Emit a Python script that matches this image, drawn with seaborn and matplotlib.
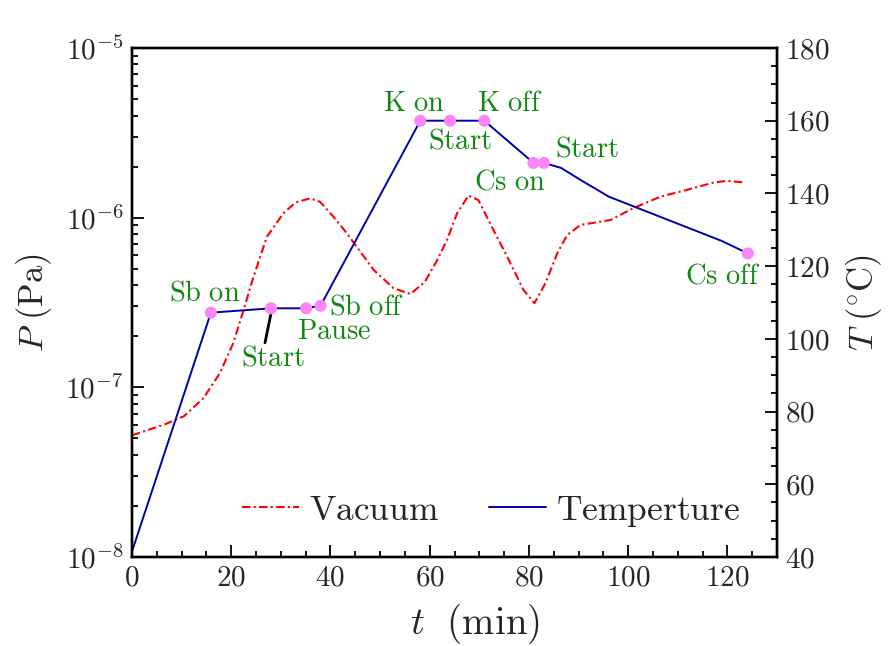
import math
import matplotlib
matplotlib.use('Agg')
import matplotlib.pyplot as plt
import matplotlib.ticker as mticker
from matplotlib.lines import Line2D
import pandas as pd
import seaborn as sns

# vacuum during the run (left axis, Pa)
vac_t = [0, 6.5, 10.5, 14.4, 17.7, 20.4, 22.5, 24.5, 27.2, 30.5, 33, 35.9, 37.9, 40.5,
         43.3, 48.7, 52.7, 56.1, 59, 61.5, 63.5, 65.5, 67.8, 69.8, 72.5, 75.6, 78.9,
         81.1, 83.3, 85.7, 87.7, 90.4, 96.4, 101.1, 106.5, 111.9, 117.2, 119.9, 123.6]
vac_p = [5.21e-8, 6.03e-8, 6.76e-8, 8.63e-8, 1.21e-7, 1.82e-7, 2.86e-7, 4.49e-7, 7.73e-7,
         1.06e-6, 1.23e-6, 1.30e-6, 1.24e-6, 1.02e-6, 8.09e-7, 4.92e-7, 3.84e-7, 3.55e-7,
         4.17e-7, 5.62e-7, 7.41e-7, 1.06e-6, 1.35e-6, 1.27e-6, 8.85e-7, 5.89e-7, 3.75e-7,
         3.13e-7, 4.10e-7, 6.17e-7, 7.91e-7, 9.06e-7, 9.68e-7, 1.14e-6, 1.33e-6, 1.46e-6,
         1.61e-6, 1.65e-6, 1.61e-6]

# temperature (right axis, deg C)
temp_t = [0, 15.9, 28, 35.1, 38, 58.1, 64.1, 71, 80.9, 83, 86.5, 90.4, 96.1, 118.9, 124.1]
temp_T = [41.5, 107.2, 108.4, 108.4, 109.1, 160, 160, 160, 148.4, 148.4, 147, 143.7,
          139.1, 126.9, 123.5]

# process events
event_t = [15.9, 28, 35.1, 38, 58.1, 64.1, 71, 80.9, 83, 124.1]
event_T = [107.2, 108.4, 108.4, 109.1, 160, 160, 160, 148.4, 148.4, 123.5]
event_names = ['Sb on', 'Start', 'Pause', 'Sb off', 'K on', 'Start', 'K off',
               'Cs on', 'Start', 'Cs off']

sns.set_theme(style='ticks')
plt.rcParams['font.family'] = ['cmr10', 'DejaVu Serif']
plt.rcParams['mathtext.fontset'] = 'cm'
plt.rcParams['axes.formatter.use_mathtext'] = True


def rm(s):
    # render plain words in Computer Modern through mathtext
    return r'$\mathrm{' + s.replace(' ', r'\ ') + '}$'


vac_df = pd.DataFrame({'t': vac_t, 'P': vac_p})
temp_df = pd.DataFrame({'t': temp_t, 'T': temp_T})
ev_df = pd.DataFrame({'t': event_t, 'T': event_T})

fig = plt.figure(figsize=(8.96, 6.46), dpi=100)
ax = fig.add_axes([0.1473, 0.1378, 0.72, 0.7879])

red = '#ff0000'
blue = '#0000aa'
green = '#118811'

sns.lineplot(data=vac_df, x='t', y='P', ax=ax, color=red, lw=1.5, sort=False)
ax.lines[0].set_dashes([4, 1.6, 1, 1.6])
ax.set_yscale('log')
ax.set_ylim(1e-8, 1e-5)
ax.set_xlim(0, 130)

# ticks on the pressure axis
ax.yaxis.set_major_locator(mticker.LogLocator(base=10))
ax.yaxis.set_minor_locator(mticker.LogLocator(base=10, subs=range(2, 10)))
ax.yaxis.set_minor_formatter(mticker.NullFormatter())
ax.yaxis.set_major_formatter(mticker.FuncFormatter(
    lambda v, p: r'$10^{%d}$' % round(math.log10(v))))
ax.xaxis.set_major_locator(mticker.MultipleLocator(20))
ax.xaxis.set_minor_locator(mticker.MultipleLocator(5))
ax.xaxis.set_major_formatter(mticker.FuncFormatter(lambda v, p: r'$%d$' % v))

ax2 = ax.twinx()
sns.lineplot(data=temp_df, x='t', y='T', ax=ax2, color=blue, lw=1.4, sort=False)
sns.scatterplot(data=ev_df, x='t', y='T', ax=ax2, color='#f985f9', s=75,
                edgecolor='none', zorder=5)
ax2.set_ylim(40, 180)
ax2.yaxis.set_major_locator(mticker.MultipleLocator(20))
ax2.yaxis.set_minor_locator(mticker.MultipleLocator(5))
ax2.yaxis.set_major_formatter(mticker.FuncFormatter(lambda v, p: r'$%d$' % v))

for a in (ax, ax2):
    a.tick_params(which='major', direction='in', length=8.5, width=1.3,
                  labelsize=21, pad=6, color='black')
    a.tick_params(which='minor', direction='in', length=4.3, width=1.3, color='black')
    for s in a.spines.values():
        s.set_linewidth(1.7)
        s.set_color('black')
ax.tick_params(axis='y', which='both', left=True, right=False)
ax.tick_params(axis='x', which='both', bottom=True, top=False)
ax2.tick_params(axis='y', which='both', left=False, right=True)

ax.set_xlabel(r'$t\ \ (\mathrm{min})$', fontsize=28)
ax.xaxis.set_label_coords(0.532, -0.088)
ax.set_ylabel(r'$P\ (\mathrm{Pa})$', fontsize=25, labelpad=8)
ax2.set_ylabel(r'$T\ (^{\circ}\mathrm{C})$', fontsize=25, labelpad=10)

# event labels
label_pos = [(14.7, 112.6), (28.4, 94.7), (40.7, 101.9), (47.2, 108.8), (56.9, 164.6),
             (66.0, 154.4), (76.2, 164.6), (76.2, 143.1), (91.6, 152.2), (119.0, 117.3)]
for name, (lx, ly) in zip(event_names, label_pos):
    ax2.text(lx, ly, rm(name), color=green, fontsize=20.5, ha='center', va='center')
ax2.plot([28.0, 26.8], [106.9, 98.9], color='black', lw=2)

handles = [Line2D([], [], color=red, lw=1.5, dashes=[4, 1.6, 1, 1.6]),
           Line2D([], [], color=blue, lw=1.4)]
ax.legend(handles, [rm('Vacuum'), rm('Temperture')], loc='center', ncol=2,
          bbox_to_anchor=(0.557, 0.09), frameon=False, fontsize=25.5,
          handlelength=1.6, columnspacing=1.4, handletextpad=0.3)

fig.savefig('out.png', dpi=100)
